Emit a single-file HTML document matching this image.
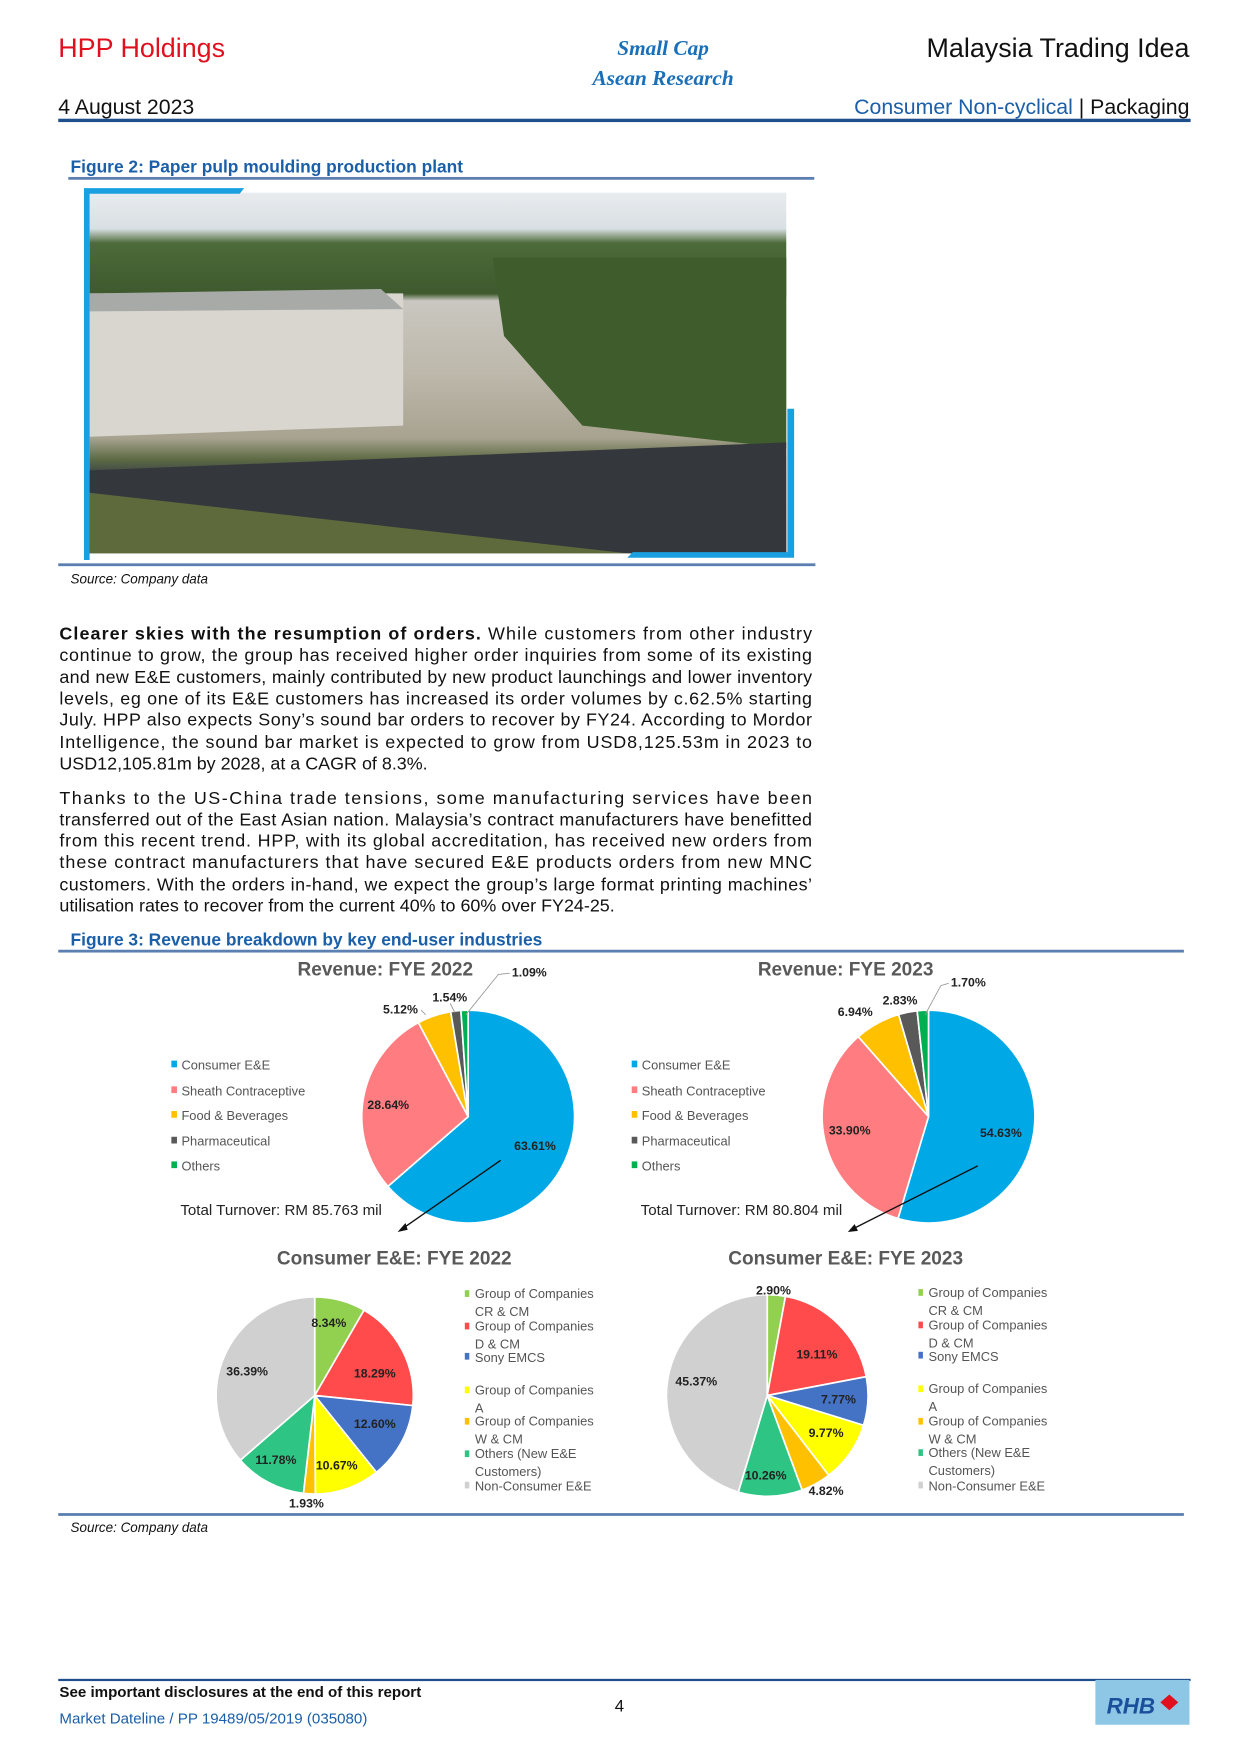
<!DOCTYPE html>
<html><head><meta charset="utf-8">
<style>
html,body{margin:0;padding:0;background:#fff;}
svg{display:block;font-family:"Liberation Sans",Arial,sans-serif;}
.p{font-size:16px;fill:#111;}
.lg{font-size:11.5px;fill:#555;}
.pl{font-size:11px;font-weight:bold;fill:#222;}
</style></head><body>
<svg id="s" width="1241" height="1755" viewBox="0 0 1108 1567" preserveAspectRatio="none" xmlns="http://www.w3.org/2000/svg">
<text x="52" y="51" font-size="24" fill="#e0101e">HPP Holdings</text>
<text x="592" y="49" font-size="19" fill="#1a6fb8" font-style="italic" font-weight="bold" text-anchor="middle" font-family="Liberation Serif,serif">Small Cap</text>
<text x="592" y="76" font-size="19" fill="#1a6fb8" font-style="italic" font-weight="bold" text-anchor="middle" font-family="Liberation Serif,serif">Asean Research</text>
<text x="1062" y="51" font-size="24" fill="#111" text-anchor="end">Malaysia Trading Idea</text>
<text x="52" y="102" font-size="19" fill="#111">4 August 2023</text>
<text x="1062" y="102" font-size="19" text-anchor="end"><tspan fill="#1a5fa8">Consumer Non-cyclical</tspan><tspan fill="#111"> | Packaging</tspan></text>
<rect x="52" y="106" width="1011" height="3" fill="#1f4e8c"/>
<text x="63" y="154" font-size="15.5" font-weight="bold" fill="#1a5fa8">Figure 2: Paper pulp moulding production plant</text>
<rect x="61" y="158" width="666" height="2.5" fill="#5a7fb0"/>
<defs>
<linearGradient id="ph" x1="0" y1="0" x2="0" y2="1">
<stop offset="0" stop-color="#e8ecef"/><stop offset="0.1" stop-color="#d9dfe2"/>
<stop offset="0.14" stop-color="#4d6a3a"/><stop offset="0.28" stop-color="#3e5a2e"/>
<stop offset="0.3" stop-color="#c9c7c0"/><stop offset="0.5" stop-color="#bdb8ab"/>
<stop offset="0.68" stop-color="#a8a390"/><stop offset="0.74" stop-color="#5d6a43"/>
<stop offset="0.78" stop-color="#3f4448"/><stop offset="1" stop-color="#2b2e31"/>
</linearGradient>
</defs>
<rect x="80" y="172" width="622" height="322" fill="url(#ph)"/>
<polygon points="80,262 360,262 360,380 80,390" fill="#d8d6cf"/>
<polygon points="80,262 340,258 360,276 80,278" fill="#a8aaa8"/>
<polygon points="440,230 702,230 702,400 520,380 450,300" fill="#3e5c2c"/>
<polygon points="80,420 330,410 702,395 702,494 560,494 80,440" fill="#34383c"/>
<polygon points="80,440 560,494 80,494" fill="#5e6a3c"/>
<polygon points="75,168 218,168 214,173 80,173 80,500 75,500" fill="#1aa0e0"/>
<polygon points="703,365 709,365 709,498 560,498 565,493 703,493" fill="#1aa0e0"/>
<rect x="52" y="503" width="676" height="2.5" fill="#5a7fb0"/>
<text x="63" y="521" font-size="12" font-style="italic" fill="#111">Source: Company data</text>
<g class="p">
<text x="53" y="571" textLength="672" lengthAdjust="spacing"><tspan font-weight="bold">Clearer skies with the resumption of orders.</tspan> While customers from other industry</text>
<text x="53" y="590" textLength="672" lengthAdjust="spacing">continue to grow, the group has received higher order inquiries from some of its existing</text>
<text x="53" y="610" textLength="672" lengthAdjust="spacing">and new E&amp;E customers, mainly contributed by new product launchings and lower inventory</text>
<text x="53" y="629" textLength="672" lengthAdjust="spacing">levels, eg one of its E&amp;E customers has increased its order volumes by c.62.5% starting</text>
<text x="53" y="648" textLength="672" lengthAdjust="spacing">July. HPP also expects Sony’s sound bar orders to recover by FY24. According to Mordor</text>
<text x="53" y="668" textLength="672" lengthAdjust="spacing">Intelligence, the sound bar market is expected to grow from USD8,125.53m in 2023 to</text>
<text x="53" y="687">USD12,105.81m by 2028, at a CAGR of 8.3%.</text>
<text x="53" y="718" textLength="672" lengthAdjust="spacing">Thanks to the US-China trade tensions, some manufacturing services have been</text>
<text x="53" y="737" textLength="672" lengthAdjust="spacing">transferred out of the East Asian nation. Malaysia’s contract manufacturers have benefitted</text>
<text x="53" y="756" textLength="672" lengthAdjust="spacing">from this recent trend. HPP, with its global accreditation, has received new orders from</text>
<text x="53" y="775" textLength="672" lengthAdjust="spacing">these contract manufacturers that have secured E&amp;E products orders from new MNC</text>
<text x="53" y="795" textLength="672" lengthAdjust="spacing">customers. With the orders in-hand, we expect the group’s large format printing machines’</text>
<text x="53" y="814">utilisation rates to recover from the current 40% to 60% over FY24-25.</text>
</g>
<text x="63" y="844" font-size="15.5" font-weight="bold" fill="#1a5fa8">Figure 3: Revenue breakdown by key end-user industries</text>
<rect x="52" y="848" width="1005" height="2.5" fill="#5a7fb0"/>
<g id="pies"></g>
<text x="344" y="871" font-size="17" font-weight="bold" fill="#595959" text-anchor="middle">Revenue: FYE 2022</text>
<text x="755" y="871" font-size="17" font-weight="bold" fill="#595959" text-anchor="middle">Revenue: FYE 2023</text>
<g class="pl">
<text x="457" y="872">1.09%</text><text x="386" y="894">1.54%</text><text x="342" y="905">5.12%</text>
<text x="328" y="990">28.64%</text><text x="459" y="1027">63.61%</text>
<text x="849" y="881">1.70%</text><text x="788" y="897">2.83%</text><text x="748" y="907">6.94%</text>
<text x="740" y="1013">33.90%</text><text x="875" y="1015">54.63%</text>
</g>
<g stroke="#999" fill="none" stroke-width="0.8">
<polyline points="455,869 445,870 416,906"/><polyline points="402,896 406,904"/><polyline points="376,902 380,906"/>
<polyline points="847,878 840,880 826,906"/>
</g>
<g class="lg">
<rect x="153" y="947" width="5" height="6" fill="#00a9e6"/><text x="162" y="955">Consumer E&amp;E</text>
<rect x="153" y="970" width="5" height="6" fill="#ff7c80"/><text x="162" y="978">Sheath Contraceptive</text>
<rect x="153" y="992" width="5" height="6" fill="#ffc000"/><text x="162" y="1000">Food &amp; Beverages</text>
<rect x="153" y="1015" width="5" height="6" fill="#595959"/><text x="162" y="1023">Pharmaceutical</text>
<rect x="153" y="1037" width="5" height="6" fill="#00b050"/><text x="162" y="1045">Others</text>
<rect x="564" y="947" width="5" height="6" fill="#00a9e6"/><text x="573" y="955">Consumer E&amp;E</text>
<rect x="564" y="970" width="5" height="6" fill="#ff7c80"/><text x="573" y="978">Sheath Contraceptive</text>
<rect x="564" y="992" width="5" height="6" fill="#ffc000"/><text x="573" y="1000">Food &amp; Beverages</text>
<rect x="564" y="1015" width="5" height="6" fill="#595959"/><text x="573" y="1023">Pharmaceutical</text>
<rect x="564" y="1037" width="5" height="6" fill="#00b050"/><text x="573" y="1045">Others</text>
</g>
<text x="161" y="1085" font-size="13.5" fill="#222">Total Turnover: RM 85.763 mil</text>
<text x="572" y="1085" font-size="13.5" fill="#222">Total Turnover: RM 80.804 mil</text>
<g stroke="#111" stroke-width="1.2"><line x1="447" y1="1036" x2="358" y2="1098"/><line x1="873" y1="1041" x2="760" y2="1098"/></g>
<polygon points="355,1100 362,1092 364,1098" fill="#111"/><polygon points="757,1100 763,1093 766,1099" fill="#111"/>
<text x="352" y="1129" font-size="17" font-weight="bold" fill="#595959" text-anchor="middle">Consumer E&amp;E: FYE 2022</text>
<text x="755" y="1129" font-size="17" font-weight="bold" fill="#595959" text-anchor="middle">Consumer E&amp;E: FYE 2023</text>
<g class="pl">
<text x="278" y="1185">8.34%</text><text x="316" y="1230">18.29%</text><text x="202" y="1228">36.39%</text>
<text x="316" y="1275">12.60%</text><text x="228" y="1307">11.78%</text><text x="282" y="1312">10.67%</text><text x="258" y="1346">1.93%</text>
<text x="675" y="1156">2.90%</text><text x="711" y="1213">19.11%</text><text x="603" y="1237">45.37%</text>
<text x="733" y="1253">7.77%</text><text x="722" y="1283">9.77%</text><text x="665" y="1321">10.26%</text><text x="722" y="1335">4.82%</text>
</g>
<g class="lg" font-size="11">
<rect x="415" y="1152" width="4" height="6" fill="#92d050"/><text x="424" y="1159">Group of Companies</text><text x="424" y="1175">CR &amp; CM</text>
<rect x="415" y="1181" width="4" height="6" fill="#ff4b4b"/><text x="424" y="1188">Group of Companies</text><text x="424" y="1204">D &amp; CM</text>
<rect x="415" y="1208" width="4" height="6" fill="#4472c4"/><text x="424" y="1216">Sony EMCS</text>
<rect x="415" y="1238" width="4" height="6" fill="#ffff00"/><text x="424" y="1245">Group of Companies</text><text x="424" y="1261">A</text>
<rect x="415" y="1266" width="4" height="6" fill="#ffc000"/><text x="424" y="1273">Group of Companies</text><text x="424" y="1289">W &amp; CM</text>
<rect x="415" y="1295" width="4" height="6" fill="#2ec483"/><text x="424" y="1302">Others (New E&amp;E</text><text x="424" y="1318">Customers)</text>
<rect x="415" y="1323" width="4" height="6" fill="#d0d0d0"/><text x="424" y="1331">Non-Consumer E&amp;E</text>
<rect x="820" y="1151" width="4" height="6" fill="#92d050"/><text x="829" y="1158">Group of Companies</text><text x="829" y="1174">CR &amp; CM</text>
<rect x="820" y="1180" width="4" height="6" fill="#ff4b4b"/><text x="829" y="1187">Group of Companies</text><text x="829" y="1203">D &amp; CM</text>
<rect x="820" y="1207" width="4" height="6" fill="#4472c4"/><text x="829" y="1215">Sony EMCS</text>
<rect x="820" y="1237" width="4" height="6" fill="#ffff00"/><text x="829" y="1244">Group of Companies</text><text x="829" y="1260">A</text>
<rect x="820" y="1266" width="4" height="6" fill="#ffc000"/><text x="829" y="1273">Group of Companies</text><text x="829" y="1289">W &amp; CM</text>
<rect x="820" y="1294" width="4" height="6" fill="#2ec483"/><text x="829" y="1301">Others (New E&amp;E</text><text x="829" y="1317">Customers)</text>
<rect x="820" y="1323" width="4" height="6" fill="#d0d0d0"/><text x="829" y="1331">Non-Consumer E&amp;E</text>
</g>
<rect x="52" y="1351" width="1005" height="2.5" fill="#5a7fb0"/>
<text x="63" y="1368" font-size="12" font-style="italic" fill="#111">Source: Company data</text>
<rect x="52" y="1499" width="1011" height="2" fill="#1f4e8c"/>
<text x="53" y="1515" font-size="13.5" font-weight="bold" fill="#111">See important disclosures at the end of this report</text>
<text x="53" y="1539" font-size="13.5" fill="#1a5fa8">Market Dateline / PP 19489/05/2019 (035080)</text>
<text x="553" y="1528" font-size="15" fill="#111" text-anchor="middle">4</text>
<rect x="978" y="1500" width="84" height="40" fill="#8ec6e6"/>
<text x="988" y="1530" font-size="20" font-weight="bold" font-style="italic" fill="#1a4f9c">RHB</text>
<polygon points="1044,1513 1052,1520 1044,1527 1036,1520" fill="#e0101e"/>
</svg>
<script>
function pies(cx,cy,r,vals,cols){
 var g=document.getElementById('pies'),a=-Math.PI/2,h='';
 for(var i=0;i<vals.length;i++){
  var b=a+vals[i]/100*2*Math.PI;
  var x1=cx+r*Math.cos(a),y1=cy+r*Math.sin(a),x2=cx+r*Math.cos(b),y2=cy+r*Math.sin(b);
  h+='<path d="M'+cx+','+cy+'L'+x1+','+y1+'A'+r+','+r+' 0 '+((b-a)>Math.PI?1:0)+' 1 '+x2+','+y2+'Z" fill="'+cols[i]+'" stroke="#fff" stroke-width="1.5"/>';
  a=b;}
 g.insertAdjacentHTML('beforeend',h);
}
var c1=['#00a9e6','#ff7c80','#ffc000','#595959','#00b050'];
var c2=['#92d050','#ff4b4b','#4472c4','#ffff00','#ffc000','#2ec483','#d0d0d0'];
pies(418,997,95,[63.61,28.64,5.12,1.54,1.09],c1);
pies(829,997,95,[54.63,33.90,6.94,2.83,1.70],c1);
pies(281,1246,88,[8.34,18.29,12.60,10.67,1.93,11.78,36.39],c2);
pies(685,1246,90,[2.90,19.11,7.77,9.77,4.82,10.26,45.37],c2);
</script>
</body></html>
